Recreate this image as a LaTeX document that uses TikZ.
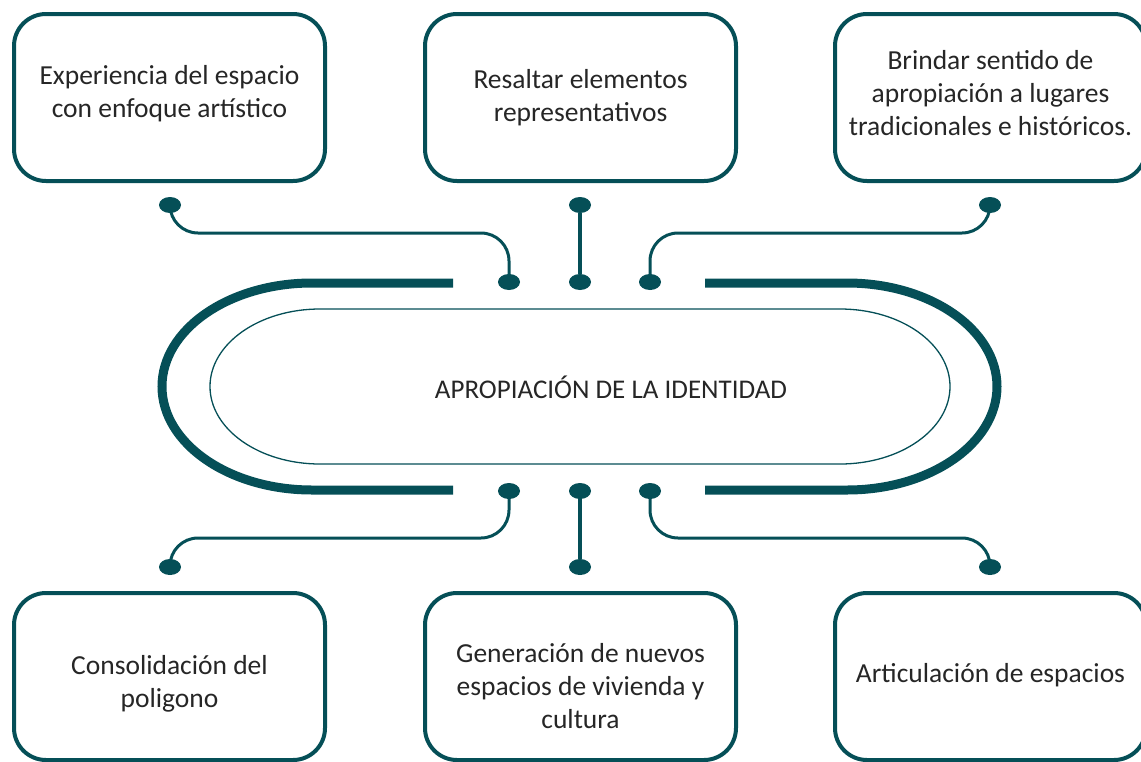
\documentclass[tikz,border=0pt]{standalone}
\usepackage{fontspec}
\setmainfont{Carlito}
\usetikzlibrary{shapes.geometric}
\definecolor{petrol}{HTML}{054F57}
\newcommand{\boxtxt}[2]{\raisebox{#1}[0pt][0pt]{\begin{tabular}{@{}c@{}}#2\end{tabular}}}
\tikzset{
  box/.style={draw=petrol, line width=4pt, rounded corners=32pt,
    minimum width=311pt, minimum height=167pt, align=center,
    text=black!85, font=\fontsize{27.5}{33}\selectfont},
  dot/.style={ellipse, fill=petrol, minimum width=22pt, minimum height=16pt, inner sep=0pt},
  link/.style={draw=petrol, line width=3pt, rounded corners=28pt},
  stem/.style={draw=petrol, line width=4pt},
  ring/.style={draw=petrol, line width=9pt}
}
\begin{document}
\begin{tikzpicture}[x=1pt,y=-1pt]
  \useasboundingbox (0,0) rectangle (1141,761);

  % boxes
  \node[box] (expe) at (169.5,97.5) {\boxtxt{-2.9pt}{Experiencia del espacio\\con enfoque artístico}};
  \node[box] (resa) at (580.5,97.5) {\boxtxt{-6.9pt}{Resaltar elementos\\representativos}};
  \node[box] (brin) at (990.5,97.5) {\boxtxt{-4.4pt}{Brindar sentido de\\apropiación a lugares\\tradicionales e históricos.}};
  \node[box] (cons) at (169.5,676.5) {\boxtxt{-13.9pt}{Consolidación del\\poligono}};
  \node[box] (gene) at (580.5,676.5) {\boxtxt{-18.4pt}{Generación de nuevos\\espacios de vivienda y\\cultura}};
  \node[box] (arti) at (990.5,676.5) {\boxtxt{-5.4pt}{Articulación de espacios}};

  % central shape
  \draw[ring] (453,283) -- (312,283) arc[start angle=270, end angle=90, x radius=150, y radius=103.5] -- (453,490);
  \draw[ring] (705,283) -- (847,283) arc[start angle=-90, end angle=90, x radius=150, y radius=103.5] -- (705,490);
  \draw[petrol, line width=1.3pt] (320,309) -- (840,309)
    arc[start angle=-90, end angle=90, x radius=110, y radius=77.5] -- (320,464)
    arc[start angle=90, end angle=270, x radius=110, y radius=77.5] -- cycle;
  \node[text=black!85, font=\fontsize{27}{32}\selectfont] (iden) at (611,387) {APROPIACIÓN DE LA IDENTIDAD};

  % dots
  \node[dot] (dA) at (170,205) {};
  \node[dot] (dB) at (580,205) {};
  \node[dot] (dC) at (990,205) {};
  \node[dot] (cA) at (509,282) {};
  \node[dot] (cB) at (580,282) {};
  \node[dot] (cC) at (650,282) {};
  \node[dot] (eA) at (509,491) {};
  \node[dot] (eB) at (580,491) {};
  \node[dot] (eC) at (650,491) {};
  \node[dot] (fA) at (170,567) {};
  \node[dot] (fB) at (580,567) {};
  \node[dot] (fC) at (990,567) {};
  \coordinate (kA) at (509,233);
  \coordinate (kC) at (650,233);
  \coordinate (kD) at (170,538);
  \coordinate (kF) at (990,538);

  % connectors
  \draw[link] (dA.center) |- (kA) -- (cA.center);
  \draw[link] (dC.center) |- (kC) -- (cC.center);
  \draw[link] (eA.center) |- (kD) -- (fA.center);
  \draw[link] (eC.center) |- (kF) -- (fC.center);
  \draw[stem] (dB) -- (cB);
  \draw[stem] (eB) -- (fB);
\end{tikzpicture}
\end{document}
